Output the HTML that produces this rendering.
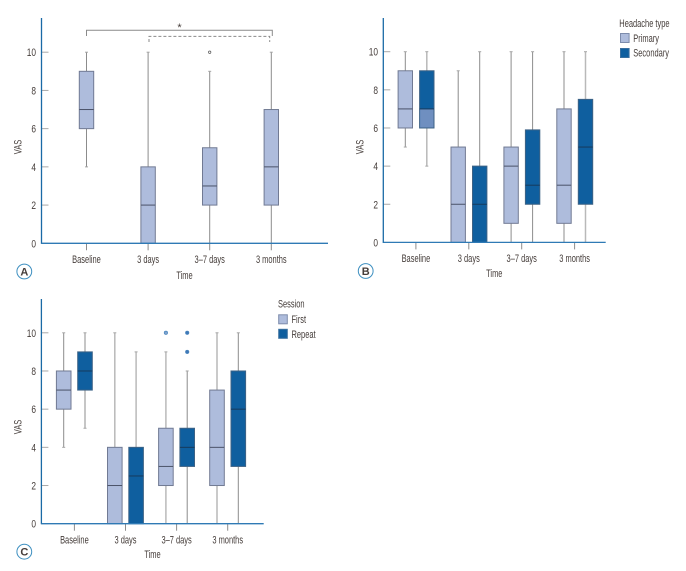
<!DOCTYPE html>
<html lang="en">
<head>
<meta charset="utf-8">
<title>VAS by time box plots</title>
<style>
html,body{margin:0;padding:0;background:#fff;width:686px;height:571px;overflow:hidden}
svg{display:block;filter:blur(.35px)}
text{font-family:"Liberation Sans",Arial,sans-serif;font-size:11px;fill:#453d3a}
</style>
</head>
<body>
<svg id="figure" xmlns="http://www.w3.org/2000/svg" width="686" height="571" viewBox="0 0 686 571">
  <rect x="0" y="0" width="686" height="571" fill="#fff"/>
  <g id="panel-a"></g>
  <g id="panel-b"></g>
  <g id="panel-c"></g>

  <g fill="none" stroke="#8a8a8a" stroke-width="1">
    <path d="M86.5 36V30.2H272.3V36"/>
    <path d="M149 42V36.4H269.7V42" stroke-dasharray="3 2"/>
    <text x="179.5" y="31" text-anchor="middle" stroke="none">*</text>
  </g>

  <g>
    <text text-anchor="middle" transform="translate(184.5 279) scale(.68 1)">Time</text>
    <text text-anchor="middle" transform="translate(21.5 147) rotate(-90) scale(.68 1)">VAS</text>
    <circle cx="24.3" cy="271.5" r="7.4" fill="#fff" stroke="#3d8fc0" stroke-width="1"/>
    <text x="24.3" y="275.5" text-anchor="middle" style="font-weight:bold">A</text>
  </g>

  <g>
    <text text-anchor="middle" transform="translate(494.3 277) scale(.68 1)">Time</text>
    <text text-anchor="middle" transform="translate(363.5 147) rotate(-90) scale(.68 1)">VAS</text>
    <circle cx="365.7" cy="271" r="7.4" fill="#fff" stroke="#3d8fc0" stroke-width="1"/>
    <text x="365.7" y="275" text-anchor="middle" style="font-weight:bold">B</text>
  </g>

  <g>
    <text transform="translate(619.3 27) scale(.68 1)">Headache type</text>
    <rect x="620.5" y="33.5" width="8.6" height="9" fill="#aebcdc" stroke="#7d8cac" stroke-width="1"/>
    <text transform="translate(633.3 42) scale(.68 1)">Primary</text>
    <rect x="620.5" y="48.5" width="8.6" height="9" fill="#0f5f9f" stroke="#3a6f9f" stroke-width="1"/>
    <text transform="translate(633.3 56.5) scale(.68 1)">Secondary</text>
  </g>

  <g>
    <text text-anchor="middle" transform="translate(152.5 558) scale(.68 1)">Time</text>
    <text text-anchor="middle" transform="translate(21.5 427) rotate(-90) scale(.68 1)">VAS</text>
    <circle cx="24.3" cy="551.7" r="7.4" fill="#fff" stroke="#3d8fc0" stroke-width="1"/>
    <text x="24.3" y="555.7" text-anchor="middle" style="font-weight:bold">C</text>
  </g>

  <g>
    <text transform="translate(278 307.5) scale(.68 1)">Session</text>
    <rect x="278.7" y="314.8" width="8.6" height="9" fill="#aebcdc" stroke="#7d8cac" stroke-width="1"/>
    <text transform="translate(291.5 323) scale(.68 1)">First</text>
    <rect x="278.7" y="329.3" width="8.6" height="9" fill="#0f5f9f" stroke="#3a6f9f" stroke-width="1"/>
    <text transform="translate(291.5 337.8) scale(.68 1)">Repeat</text>
  </g>
</svg>

<script>
// Shared labels
const categories = ['Baseline', '3 days', '3\u20137 days', '3 months'];
const yTickLabels = [0, 2, 4, 6, 8, 10];

// Panel A: all patients
const aLowerWhisker = [4, 0, 0, 0];
const aQ1 = [6, 0, 2, 2];
const aMedian = [7, 2, 3, 4];
const aQ3 = [9, 4, 5, 7];
const aMax = [10, 10, 9, 10];
const aOutlierValues = [[], [], [10], []];

// Panel B: headache type
const bPrimaryLow = [5, 0, 0, 0];
const bPrimaryQ1 = [6, 0, 1, 1];
const bPrimaryMedian = [7, 2, 4, 3];
const bPrimaryQ3 = [9, 5, 5, 7];
const bPrimaryHigh = [10, 9, 10, 10];
const bSecondaryLow = [4, 0, 0, 0];
const bSecondaryQ1 = [6, 0, 2, 2];
const bSecondaryMedian = [7, 2, 3, 5];
const bSecondaryQ3 = [9, 4, 5.9, 7.5];
const bSecondaryHigh = [10, 10, 10, 10];

// Panel C: session
const cFirstLow = [4, 0, 0, 0];
const cFirstQ1 = [6, 0, 2, 2];
const cFirstMedian = [7, 2, 3, 4];
const cFirstQ3 = [8, 4, 5, 7];
const cFirstHigh = [10, 10, 9, 10];
const cFirstOutliers = [[], [], [10], []];
const cRepeatLow = [5, 0, 0, 0];
const cRepeatQ1 = [7, 0, 3, 3];
const cRepeatMedian = [8, 2.5, 4, 6];
const cRepeatQ3 = [9, 4, 5, 8];
const cRepeatHigh = [10, 9, 8, 10];
const cRepeatOutliers = [[], [], [9, 10], []];

const NS = 'http://www.w3.org/2000/svg';
const LIGHT = {fill: '#aebcdc', stroke: '#717a93', median: '#4a5268', name: 'light'};
const DARK = {fill: '#0f5f9f', stroke: '#3d6285', median: '#173a5c', name: 'dark'};

function make(parent, tag, attrs, name) {
  const el = document.createElementNS(NS, tag);
  for (const k in attrs) el.setAttribute(k, attrs[k]);
  
  
  parent.appendChild(el);
  return el;
}

function seg(parent, x1, y1, x2, y2, color, w, name) {
  return make(parent, 'line', {x1: x1, y1: y1, x2: x2, y2: y2, stroke: color, 'stroke-width': w}, name);
}

function drawAxes(g, geo) {
  const y = v => geo.y0 + (geo.y10 - geo.y0) * v / 10;
  const x = i => geo.x0 + geo.step * i;
  yTickLabels.forEach(v => {
    seg(g, geo.left, y(v), geo.left + 7, y(v), '#a8a8a8', 1, 'y-tick');
    const t = make(g, 'text', {'text-anchor': 'end', transform: 'translate(' + geo.labelRight + ' ' + (y(v) + 4) + ') scale(.76 1)'}, 'y-tick-label');
    t.textContent = v;
  });
  categories.forEach((c, i) => {
    seg(g, x(i), geo.y0, x(i), geo.y0 + 7, '#8c8c8c', 1, 'x-tick');
    const t = make(g, 'text', {'text-anchor': 'middle', transform: 'translate(' + x(i) + ' ' + geo.catBase + ') scale(.68 1)'}, 'x-tick-label');
    t.textContent = c;
  });
  return {x: x, y: y};
}

function drawFinalAxes(g, geo) {
  seg(g, geo.left, geo.top, geo.left, geo.y0 + .6, '#1a6aa6', 1.3, 'y-axis');
  seg(g, geo.left, geo.y0, geo.right, geo.y0, '#2f7ab5', 1.3, 'x-axis');
}

function drawSeries(g, scale, offset, hw, s, style) {
  s.median.forEach((m, i) => {
    const cx = scale.x(i) + offset;
    const soft = s.softWhisker && s.softWhisker[i];
    const box = make(g, 'g', {}, 'box-' + style.name + '-' + i);
    seg(box, cx, scale.y(s.low[i]), cx, scale.y(s.high[i]), soft ? '#b9b9b9' : '#8c8c8c', soft ? 1.5 : 1, 'whisker');
    seg(box, cx - 1.5, scale.y(s.high[i]), cx + 1.5, scale.y(s.high[i]), '#a5a5a5', 1, 'whisker-cap-high');
    if (s.low[i] > 0) seg(box, cx - 1.5, scale.y(s.low[i]), cx + 1.5, scale.y(s.low[i]), '#a5a5a5', 1, 'whisker-cap-low');
    make(box, 'rect', {
      x: cx - hw, y: scale.y(s.q3[i]), width: hw * 2, height: scale.y(s.q1[i]) - scale.y(s.q3[i]),
      fill: style.fill, stroke: style.stroke, 'stroke-width': 1
    }, 'box');
    if (s.lowerFill && s.lowerFill[i]) {
      make(box, 'rect', {
        x: cx - hw + .5, y: scale.y(s.median[i]), width: hw * 2 - 1, height: scale.y(s.q1[i]) - scale.y(s.median[i]) - .5,
        fill: s.lowerFill[i]
      }, 'box-lower-half');
    }
    seg(box, cx - hw, scale.y(m), cx + hw, scale.y(m), style.median, 1, 'median');
    (s.outliers ? s.outliers[i] : []).forEach(v => {
      make(box, 'circle', {cx: cx, cy: scale.y(v), r: s.outlierR, fill: s.outlierFill, stroke: s.outlierStroke, 'stroke-width': .7}, 'outlier');
    });
  });
}

// Panel A
const geoA = {left: 41.5, right: 328, top: 18, y0: 243.3, y10: 52.2, x0: 86.5, step: 61.6, labelRight: 36, catBase: 263};
const gA = document.getElementById('panel-a');
const scaleA = drawAxes(gA, geoA);
drawSeries(gA, scaleA, 0, 7.2, {low: aLowerWhisker, q1: aQ1, median: aMedian, q3: aQ3, high: aMax, outliers: aOutlierValues, outlierR: 1.2, outlierFill: '#fff', outlierStroke: '#555'}, LIGHT);
drawFinalAxes(gA, geoA);

// Panel B
const geoB = {left: 383.3, right: 605.7, top: 18, y0: 242.4, y10: 51.7, x0: 415.9, step: 52.9, labelRight: 378, catBase: 262};
const gB = document.getElementById('panel-b');
const scaleB = drawAxes(gB, geoB);
drawSeries(gB, scaleB, -10.6, 7.2, {low: bPrimaryLow, q1: bPrimaryQ1, median: bPrimaryMedian, q3: bPrimaryQ3, high: bPrimaryHigh}, LIGHT);
drawSeries(gB, scaleB, 10.9, 7.2, {low: bSecondaryLow, q1: bSecondaryQ1, median: bSecondaryMedian, q3: bSecondaryQ3, high: bSecondaryHigh, lowerFill: ['#6f8fc0', null, null, null], softWhisker: [true, false, false, true]}, DARK);
drawFinalAxes(gB, geoB);

// Panel C
const geoC = {left: 41.4, right: 263.7, top: 299, y0: 523.7, y10: 332.8, x0: 74.4, step: 51.1, labelRight: 36, catBase: 543.7};
const gC = document.getElementById('panel-c');
const scaleC = drawAxes(gC, geoC);
drawSeries(gC, scaleC, -10.7, 7.3, {low: cFirstLow, q1: cFirstQ1, median: cFirstMedian, q3: cFirstQ3, high: cFirstHigh, outliers: cFirstOutliers, outlierR: 1.7, outlierFill: '#7fa3cf', outlierStroke: '#4a86bd', softWhisker: [false, true, true, true]}, LIGHT);
drawSeries(gC, scaleC, 10.6, 7.3, {low: cRepeatLow, q1: cRepeatQ1, median: cRepeatMedian, q3: cRepeatQ3, high: cRepeatHigh, outliers: cRepeatOutliers, outlierR: 1.7, outlierFill: '#3f78b8', outlierStroke: '#4a86bd', softWhisker: [false, true, false, false]}, DARK);
drawFinalAxes(gC, geoC);
</script>
</body>
</html>
